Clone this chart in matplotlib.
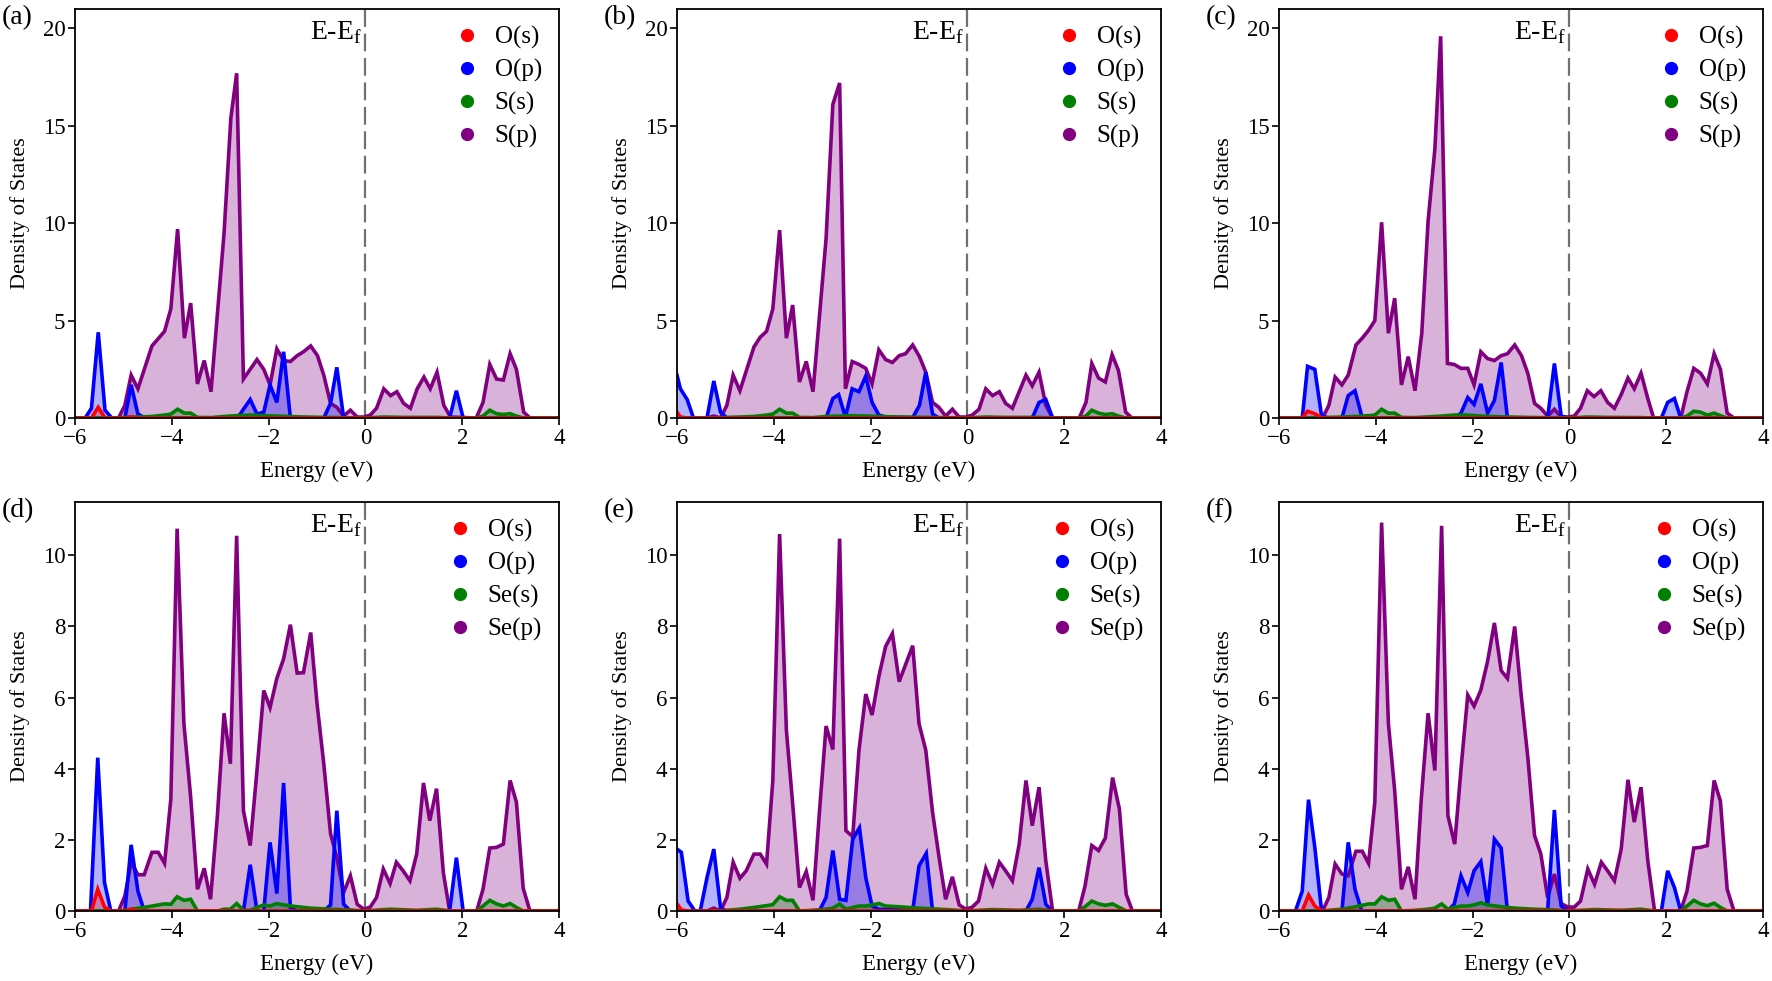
import numpy as np
import matplotlib.pyplot as plt
from matplotlib.lines import Line2D
from matplotlib.transforms import blended_transform_factory

plt.rcParams['font.family'] = ['Liberation Serif', 'DejaVu Serif']
plt.rcParams['mathtext.fontset'] = 'custom'
plt.rcParams['mathtext.rm'] = 'Liberation Serif'

# (energy, DOS) vertices
# panel (a)
A_OS = [(-6, 0), (-5.66, 0), (-5.52, 0.55), (-5.38, 0), (-4.97, 0), (-4.84, 0.06), (-4.70, 0), (4, 0)]
A_OP = [(-6, 0), (-5.79, 0), (-5.66, 0.5), (-5.52, 4.4), (-5.38, 0.4), (-5.24, 0), (-4.97, 0), (-4.84, 1.7),
        (-4.70, 0.2), (-4.55, 0), (-2.64, 0), (-2.52, 0.45), (-2.38, 0.95), (-2.24, 0.2), (-2.10, 0.3),
        (-1.97, 1.7), (-1.83, 0.8), (-1.69, 3.4), (-1.55, 0), (-0.86, 0), (-0.72, 0.75), (-0.59, 2.6),
        (-0.45, 0), (1.74, 0), (1.88, 1.4), (2.02, 0), (4, 0)]
A_XS = [(-6, 0), (-5.10, 0), (-4.97, 0.03), (-4.70, 0.05), (-4.41, 0.08), (-4.15, 0.15), (-4.02, 0.2),
        (-3.88, 0.45), (-3.74, 0.25), (-3.61, 0.25), (-3.47, 0.03), (-3.19, 0.02), (-2.92, 0.08),
        (-2.66, 0.12), (-2.38, 0.15), (-2.10, 0.12), (-1.83, 0.1), (-1.41, 0.06), (-0.86, 0.03),
        (-0.03, 0), (0.38, 0.05), (0.79, 0.03), (1.48, 0.03), (1.76, 0), (2.29, 0), (2.43, 0.1),
        (2.57, 0.4), (2.71, 0.22), (2.85, 0.18), (2.99, 0.22), (3.12, 0.1), (3.27, 0), (4, 0)]
A_XP = [(-6, 0), (-5.10, 0), (-4.97, 0.65), (-4.84, 2.2), (-4.70, 1.5), (-4.41, 3.7), (-4.15, 4.45),
        (-4.02, 5.6), (-3.88, 9.7), (-3.74, 4.1), (-3.61, 5.9), (-3.47, 1.75), (-3.33, 2.95), (-3.19, 1.35),
        (-2.92, 9.5), (-2.78, 15.4), (-2.66, 17.7), (-2.52, 2.0), (-2.24, 3.0), (-2.10, 2.5), (-1.97, 1.7),
        (-1.83, 3.55), (-1.69, 2.95), (-1.55, 2.9), (-1.41, 3.2), (-1.28, 3.4), (-1.13, 3.7), (-0.99, 3.2),
        (-0.86, 2.2), (-0.72, 0.75), (-0.59, 0.55), (-0.45, 0.1), (-0.31, 0.4), (-0.17, 0.05),
        (-0.03, 0.05), (0.10, 0.15), (0.23, 0.5), (0.38, 1.5), (0.52, 1.15), (0.65, 1.35), (0.79, 0.75),
        (0.93, 0.5), (1.07, 1.5), (1.21, 2.1), (1.34, 1.5), (1.48, 2.35), (1.62, 0.65), (1.76, 0.05),
        (2.29, 0), (2.43, 0.8), (2.57, 2.75), (2.71, 2.0), (2.85, 1.95), (2.99, 3.3), (3.12, 2.5),
        (3.27, 0.3), (3.40, 0), (4, 0)]

# panel (b)
B_OS = [(-6, 0.3), (-5.93, 0.05), (-5.79, 0), (4, 0)]
B_OP = [(-6, 2.2), (-5.93, 1.5), (-5.79, 0.95), (-5.66, 0), (-5.38, 0), (-5.24, 1.9), (-5.10, 0.3),
        (-4.97, 0), (-2.92, 0), (-2.78, 1.0), (-2.66, 1.2), (-2.52, 0.05), (-2.38, 1.5), (-2.24, 1.35),
        (-2.10, 2.15), (-1.97, 0.8), (-1.83, 0.15), (-1.69, 0.05), (-1.13, 0.02), (-0.99, 0.65),
        (-0.86, 2.35), (-0.72, 0.2), (-0.59, 0), (1.34, 0), (1.48, 0.8), (1.62, 0.95), (1.76, 0), (4, 0)]
B_XS = [(-6, 0), (-5.10, 0), (-4.97, 0.03), (-4.70, 0.05), (-4.41, 0.08), (-4.15, 0.15), (-4.02, 0.2),
        (-3.88, 0.45), (-3.74, 0.25), (-3.61, 0.25), (-3.47, 0.03), (-3.19, 0.02), (-2.92, 0.08),
        (-2.64, 0.1), (-2.38, 0.12), (-2.10, 0.1), (-1.83, 0.08), (-1.41, 0.05), (-0.86, 0.03),
        (-0.03, 0), (0.38, 0.05), (0.79, 0.03), (1.48, 0.03), (1.76, 0), (2.31, 0), (2.45, 0.1),
        (2.57, 0.4), (2.71, 0.25), (2.85, 0.18), (2.99, 0.22), (3.12, 0.1), (3.27, 0), (4, 0)]
B_XP = [(-6, 0), (-5.38, 0), (-5.24, 0.1), (-5.10, 0), (-4.97, 0.65), (-4.84, 2.2), (-4.70, 1.4),
        (-4.41, 3.65), (-4.28, 4.15), (-4.15, 4.45), (-4.02, 5.6), (-3.88, 9.65), (-3.74, 4.1),
        (-3.61, 5.8), (-3.47, 1.85), (-3.33, 2.9), (-3.19, 1.35), (-2.92, 9.2), (-2.78, 16.1),
        (-2.64, 17.2), (-2.52, 1.5), (-2.38, 2.9), (-2.24, 2.75), (-2.10, 2.55), (-1.97, 1.75),
        (-1.83, 3.5), (-1.69, 3.0), (-1.55, 2.85), (-1.41, 3.2), (-1.28, 3.3), (-1.13, 3.75), (-0.99, 3.15),
        (-0.86, 2.35), (-0.72, 0.8), (-0.59, 0.55), (-0.45, 0.1), (-0.31, 0.45), (-0.17, 0.05),
        (-0.03, 0.05), (0.10, 0.15), (0.24, 0.45), (0.38, 1.5), (0.52, 1.15), (0.66, 1.35), (0.79, 0.75),
        (0.93, 0.5), (1.07, 1.35), (1.21, 2.2), (1.34, 1.65), (1.48, 2.35), (1.62, 0.65), (1.76, 0),
        (2.31, 0), (2.45, 0.8), (2.57, 2.8), (2.71, 2.05), (2.85, 1.85), (2.99, 3.25), (3.12, 2.45),
        (3.27, 0.3), (3.40, 0), (4, 0)]

# panel (c)
C_OS = [(-6, 0), (-5.52, 0), (-5.41, 0.35), (-5.26, 0.22), (-5.12, 0), (4, 0)]
C_OP = [(-6, 0), (-5.52, 0), (-5.41, 2.65), (-5.26, 2.5), (-5.12, 0.1), (-4.97, 0), (-4.70, 0),
        (-4.57, 1.15), (-4.43, 1.4), (-4.29, 0.1), (-4.15, 0), (-2.38, 0), (-2.24, 0.25), (-2.10, 1.05),
        (-1.97, 0.7), (-1.83, 1.75), (-1.69, 0.25), (-1.55, 0.9), (-1.41, 2.85), (-1.28, 0), (-0.45, 0),
        (-0.31, 2.8), (-0.17, 0.1), (-0.03, 0), (1.90, 0), (2.03, 0.8), (2.17, 1.0), (2.30, 0), (4, 0)]
C_XS = [(-6, 0), (-5.10, 0), (-4.97, 0.03), (-4.70, 0.05), (-4.41, 0.08), (-4.15, 0.12), (-4.02, 0.15),
        (-3.88, 0.45), (-3.74, 0.25), (-3.61, 0.25), (-3.47, 0.03), (-3.19, 0.02), (-2.92, 0.06),
        (-2.64, 0.1), (-2.38, 0.15), (-2.10, 0.15), (-1.83, 0.1), (-1.41, 0.06), (-0.86, 0.03),
        (-0.03, 0), (0.38, 0.05), (0.79, 0.03), (1.48, 0.02), (1.74, 0), (2.30, 0), (2.43, 0.1),
        (2.57, 0.35), (2.71, 0.3), (2.85, 0.15), (2.99, 0.25), (3.12, 0.12), (3.26, 0), (4, 0)]
C_XP = [(-6, 0), (-5.10, 0), (-4.97, 0.65), (-4.84, 2.1), (-4.70, 1.7), (-4.57, 2.2), (-4.41, 3.75),
        (-4.28, 4.1), (-4.15, 4.5), (-4.02, 5.0), (-3.88, 10.05), (-3.74, 4.35), (-3.61, 6.15),
        (-3.47, 1.7), (-3.33, 3.15), (-3.19, 1.4), (-3.05, 4.35), (-2.92, 10.1), (-2.78, 13.8),
        (-2.66, 19.6), (-2.52, 2.8), (-2.38, 2.75), (-2.24, 2.55), (-2.10, 2.55), (-1.97, 1.7),
        (-1.83, 3.4), (-1.69, 3.05), (-1.55, 2.95), (-1.41, 3.2), (-1.28, 3.3), (-1.13, 3.75), (-0.99, 3.2),
        (-0.86, 2.3), (-0.72, 0.75), (-0.59, 0.5), (-0.45, 0.1), (-0.31, 0.45), (-0.17, 0.05),
        (-0.03, 0.05), (0.10, 0.1), (0.23, 0.5), (0.37, 1.4), (0.51, 1.1), (0.65, 1.4), (0.79, 0.8),
        (0.93, 0.5), (1.07, 1.2), (1.21, 2.05), (1.34, 1.5), (1.48, 2.3), (1.62, 1.0), (1.74, 0),
        (2.30, 0), (2.43, 1.35), (2.57, 2.55), (2.71, 2.3), (2.85, 1.75), (2.99, 3.3), (3.12, 2.5),
        (3.26, 0.25), (3.40, 0), (4, 0)]

# panel (d)
D_OS = [(-6, 0), (-5.66, 0), (-5.53, 0.61), (-5.39, 0.11), (-5.26, 0), (-4.97, 0), (-4.84, 0.05),
        (-4.70, 0), (4, 0)]
D_OP = [(-6, 0), (-5.68, 0), (-5.53, 4.31), (-5.39, 0.8), (-5.26, 0), (-4.97, 0), (-4.84, 1.86),
        (-4.70, 0.56), (-4.57, 0), (-2.52, 0), (-2.38, 1.3), (-2.24, 0), (-2.10, 0), (-1.97, 1.93),
        (-1.83, 0.49), (-1.69, 3.6), (-1.55, 0.1), (-1.41, 0), (-0.86, 0), (-0.72, 0.17), (-0.59, 2.82),
        (-0.45, 0.19), (-0.31, 0), (1.74, 0), (1.88, 1.5), (2.02, 0), (4, 0)]
D_XS = [(-6, 0), (-5.10, 0), (-4.97, 0.02), (-4.84, 0.05), (-4.57, 0.1), (-4.28, 0.17), (-4.15, 0.2),
        (-4.02, 0.19), (-3.89, 0.4), (-3.75, 0.3), (-3.61, 0.33), (-3.47, 0), (-3.06, 0), (-2.92, 0.05),
        (-2.79, 0.05), (-2.66, 0.21), (-2.52, 0.02), (-2.38, 0.02), (-2.24, 0.1), (-2.10, 0.17),
        (-1.97, 0.14), (-1.83, 0.21), (-1.69, 0.17), (-1.41, 0.12), (-1.13, 0.08), (-0.72, 0.05),
        (-0.31, 0.03), (-0.03, 0), (0.51, 0.05), (1.06, 0.02), (1.47, 0.05), (1.74, 0), (2.30, 0),
        (2.43, 0.14), (2.57, 0.3), (2.71, 0.2), (2.85, 0.14), (2.99, 0.21), (3.12, 0.1), (3.26, 0), (4, 0)]
D_XP = [(-6, 0), (-5.10, 0), (-4.97, 0.42), (-4.84, 1.37), (-4.70, 1.02), (-4.57, 1.02), (-4.41, 1.65),
        (-4.28, 1.65), (-4.15, 1.34), (-4.02, 3.15), (-3.89, 10.75), (-3.75, 5.27), (-3.61, 3.2),
        (-3.47, 0.61), (-3.33, 1.2), (-3.20, 0.33), (-3.06, 2.64), (-2.92, 5.56), (-2.79, 4.14),
        (-2.66, 10.55), (-2.52, 2.82), (-2.38, 1.84), (-2.24, 3.95), (-2.10, 6.2), (-1.97, 5.72),
        (-1.83, 6.54), (-1.69, 7.09), (-1.55, 8.05), (-1.41, 6.69), (-1.28, 6.7), (-1.13, 7.83),
        (-1.00, 5.84), (-0.86, 4.14), (-0.72, 2.17), (-0.59, 1.5), (-0.45, 0.52), (-0.31, 0.99),
        (-0.17, 0.19), (-0.03, 0.05), (0.10, 0.11), (0.23, 0.38), (0.37, 1.18), (0.51, 0.77), (0.64, 1.37),
        (0.78, 1.13), (0.92, 0.85), (1.06, 1.6), (1.20, 3.6), (1.33, 2.54), (1.47, 3.44), (1.61, 1.08),
        (1.74, 0), (2.30, 0), (2.43, 0.61), (2.57, 1.77), (2.71, 1.79), (2.85, 1.88), (2.99, 3.67),
        (3.12, 3.06), (3.26, 0.64), (3.40, 0), (4, 0)]

# panel (e)
E_OS = [(-6, 0.2), (-5.91, 0.03), (-5.77, 0), (4, 0)]
E_OP = [(-6, 1.74), (-5.91, 1.65), (-5.77, 0.28), (-5.63, 0), (-5.52, 0), (-5.38, 0.94), (-5.24, 1.74),
        (-5.10, 0.08), (-4.97, 0), (-3.06, 0), (-2.92, 0.38), (-2.78, 1.7), (-2.64, 0.33), (-2.51, 0.3),
        (-2.37, 2.02), (-2.23, 2.34), (-2.10, 0.94), (-1.97, 0.14), (-1.83, 0.05), (-1.13, 0.02),
        (-1.00, 1.27), (-0.85, 1.62), (-0.72, 0), (1.21, 0), (1.34, 0.33), (1.48, 1.22), (1.62, 0.19),
        (1.74, 0), (4, 0)]
E_XS = [(-6, 0), (-5.10, 0), (-4.97, 0.02), (-4.70, 0.05), (-4.41, 0.1), (-4.15, 0.15), (-4.02, 0.18),
        (-3.88, 0.4), (-3.74, 0.3), (-3.61, 0.3), (-3.47, 0), (-3.19, 0.02), (-2.92, 0.05), (-2.78, 0.08),
        (-2.64, 0.2), (-2.51, 0.05), (-2.37, 0.1), (-2.24, 0.14), (-2.10, 0.14), (-1.97, 0.17),
        (-1.83, 0.21), (-1.69, 0.14), (-1.41, 0.12), (-1.13, 0.09), (-0.72, 0.06), (-0.31, 0.03),
        (-0.03, 0), (0.52, 0.04), (1.07, 0.02), (1.48, 0.05), (1.76, 0), (2.30, 0), (2.43, 0.12),
        (2.57, 0.28), (2.71, 0.2), (2.85, 0.16), (3.00, 0.2), (3.14, 0.1), (3.28, 0), (4, 0)]
E_XP = [(-6, 0), (-5.38, 0), (-5.24, 0.08), (-5.10, 0), (-4.97, 0.38), (-4.84, 1.37), (-4.70, 0.92),
        (-4.57, 1.13), (-4.41, 1.6), (-4.28, 1.6), (-4.15, 1.32), (-4.02, 3.67), (-3.88, 10.6),
        (-3.74, 5.08), (-3.61, 3.01), (-3.47, 0.66), (-3.33, 1.11), (-3.19, 0.3), (-3.06, 2.73),
        (-2.92, 5.2), (-2.78, 4.54), (-2.64, 10.47), (-2.51, 2.26), (-2.37, 2.09), (-2.24, 4.52),
        (-2.10, 6.1), (-1.97, 5.51), (-1.83, 6.59), (-1.69, 7.44), (-1.55, 7.8), (-1.41, 6.45),
        (-1.28, 6.92), (-1.13, 7.46), (-1.00, 5.27), (-0.86, 4.52), (-0.72, 2.78), (-0.59, 1.55),
        (-0.45, 0.33), (-0.31, 0.96), (-0.17, 0.17), (-0.03, 0.05), (0.10, 0.11), (0.23, 0.28),
        (0.38, 1.2), (0.52, 0.75), (0.66, 1.37), (0.79, 1.13), (0.93, 0.85), (1.07, 1.88), (1.21, 3.67),
        (1.34, 2.4), (1.48, 3.48), (1.62, 1.41), (1.76, 0), (2.30, 0), (2.43, 0.7), (2.57, 1.84),
        (2.71, 1.7), (2.85, 2.05), (3.00, 3.75), (3.14, 2.87), (3.28, 0.47), (3.41, 0), (4, 0)]

# panel (f)
F_OS = [(-6, 0), (-5.52, 0), (-5.39, 0.45), (-5.26, 0.14), (-5.12, 0), (4, 0)]
F_OP = [(-6, 0), (-5.66, 0), (-5.52, 0.56), (-5.39, 3.13), (-5.26, 1.79), (-5.12, 0), (-4.70, 0),
        (-4.57, 1.93), (-4.43, 0.61), (-4.29, 0), (-2.52, 0), (-2.38, 0.19), (-2.24, 0.99), (-2.10, 0.52),
        (-1.97, 1.13), (-1.83, 1.39), (-1.69, 0.14), (-1.55, 2.02), (-1.41, 1.77), (-1.28, 0), (-0.45, 0),
        (-0.31, 2.84), (-0.17, 0.14), (-0.03, 0), (1.90, 0), (2.03, 1.13), (2.17, 0.66), (2.30, 0), (4, 0)]
F_XS = [(-6, 0), (-5.10, 0), (-4.97, 0.02), (-4.70, 0.05), (-4.41, 0.12), (-4.15, 0.2), (-4.02, 0.2),
        (-3.88, 0.4), (-3.74, 0.3), (-3.61, 0.33), (-3.47, 0), (-3.19, 0.02), (-2.92, 0.05), (-2.78, 0.08),
        (-2.64, 0.2), (-2.51, 0.05), (-2.37, 0.1), (-2.24, 0.14), (-2.10, 0.14), (-1.97, 0.17),
        (-1.83, 0.23), (-1.69, 0.17), (-1.41, 0.12), (-1.13, 0.08), (-0.72, 0.05), (-0.31, 0.03),
        (-0.03, 0), (0.52, 0.04), (1.07, 0.02), (1.48, 0.05), (1.76, 0), (2.30, 0), (2.43, 0.14),
        (2.57, 0.3), (2.71, 0.2), (2.85, 0.15), (2.99, 0.22), (3.12, 0.1), (3.26, 0), (4, 0)]
F_XP = [(-6, 0), (-5.10, 0), (-4.97, 0.38), (-4.84, 1.32), (-4.70, 1.04), (-4.57, 0.99), (-4.41, 1.68),
        (-4.28, 1.68), (-4.15, 1.34), (-4.02, 3.06), (-3.88, 10.92), (-3.74, 5.27), (-3.61, 3.39),
        (-3.47, 0.61), (-3.33, 1.24), (-3.19, 0.33), (-3.06, 3.15), (-2.92, 5.56), (-2.78, 3.95),
        (-2.64, 10.83), (-2.51, 2.68), (-2.37, 1.88), (-2.23, 4.14), (-2.10, 6.07), (-1.97, 5.76),
        (-1.83, 6.21), (-1.69, 7.02), (-1.55, 8.1), (-1.41, 6.76), (-1.28, 6.54), (-1.13, 8.0),
        (-1.00, 6.12), (-0.86, 4.33), (-0.72, 2.12), (-0.59, 1.6), (-0.45, 0.38), (-0.31, 1.04),
        (-0.17, 0.21), (-0.03, 0.11), (0.10, 0.11), (0.23, 0.28), (0.38, 1.18), (0.52, 0.75), (0.66, 1.37),
        (0.79, 1.13), (0.93, 0.85), (1.07, 1.74), (1.21, 3.69), (1.34, 2.5), (1.48, 3.48), (1.62, 1.41),
        (1.76, 0), (2.30, 0), (2.43, 0.56), (2.57, 1.77), (2.71, 1.79), (2.85, 1.84), (2.99, 3.67),
        (3.12, 3.09), (3.26, 0.61), (3.40, 0), (4, 0)]

S_LABELS = ['O(s)', 'O(p)', 'S(s)', 'S(p)']
SE_LABELS = ['O(s)', 'O(p)', 'Se(s)', 'Se(p)']
COLORS = ['red', 'blue', 'green', 'purple']
TOP_YTICKS = [0, 5, 10, 15, 20]
BOTTOM_YTICKS = [0, 2, 4, 6, 8, 10]
XTICKS = [-6, -4, -2, 0, 2, 4]

W, H = 1772, 981
fig = plt.figure(figsize=(W / 100, H / 100), dpi=100)


def draw_panel(left_px, top_px, letter, series, labels, ylim, yticks):
    ax = fig.add_axes([left_px / W, 1 - (top_px + 409) / H, 484 / W, 409 / H])
    # draw order: p of S/Se at the back, then O(p), S(s), O(s)
    for idx in [3, 1, 2, 0]:
        e, v = np.array(series[idx]).T
        ax.fill_between(e, 0, v, color=COLORS[idx], alpha=0.3, linewidth=0)
        ax.plot(e, v, color=COLORS[idx], lw=2.6, solid_joinstyle='miter')
    ax.axvline(0, color='#6b7272', lw=1.6, ls=(0, (8, 3)), zorder=1)
    ax.set_xlim(-6, 4)
    ax.set_ylim(*ylim)
    ax.set_xticks(XTICKS)
    ax.set_yticks(yticks)
    ax.tick_params(labelsize=16.5, length=5, width=1.2, pad=2)
    for sp in ax.spines.values():
        sp.set_linewidth(1.3)
    ax.set_xlabel('Energy (eV)', fontsize=16.5, labelpad=9)
    ax.set_ylabel('Density of States', fontsize=16, labelpad=9)
    trans = blended_transform_factory(ax.transData, ax.transAxes)
    ax.text(-0.08, 0.925, r'E-E$_\mathrm{f}$', transform=trans, ha='right', va='baseline', fontsize=20)
    ax.text(-0.152, 1.01, '(' + letter + ')', transform=ax.transAxes, ha='left', va='top', fontsize=20)
    handles = [Line2D([], [], color=c, marker='o', ls='none', markersize=8.5) for c in COLORS]
    ax.legend(handles, labels, loc='upper right', frameon=False, fontsize=18,
              handletextpad=0.6, labelspacing=0.4, borderaxespad=0.28, handlelength=1.0)
    return ax


lefts = [75, 677, 1279]
top_series = [[A_OS, A_OP, A_XS, A_XP], [B_OS, B_OP, B_XS, B_XP], [C_OS, C_OP, C_XS, C_XP]]
bottom_series = [[D_OS, D_OP, D_XS, D_XP], [E_OS, E_OP, E_XS, E_XP], [F_OS, F_OP, F_XS, F_XP]]

for i, letter in enumerate('abc'):
    draw_panel(lefts[i], 9, letter, top_series[i], S_LABELS, (0, 21), TOP_YTICKS)
for i, letter in enumerate('def'):
    draw_panel(lefts[i], 502, letter, bottom_series[i], SE_LABELS, (0, 11.5), BOTTOM_YTICKS)

fig.savefig('out.png', dpi=100)
